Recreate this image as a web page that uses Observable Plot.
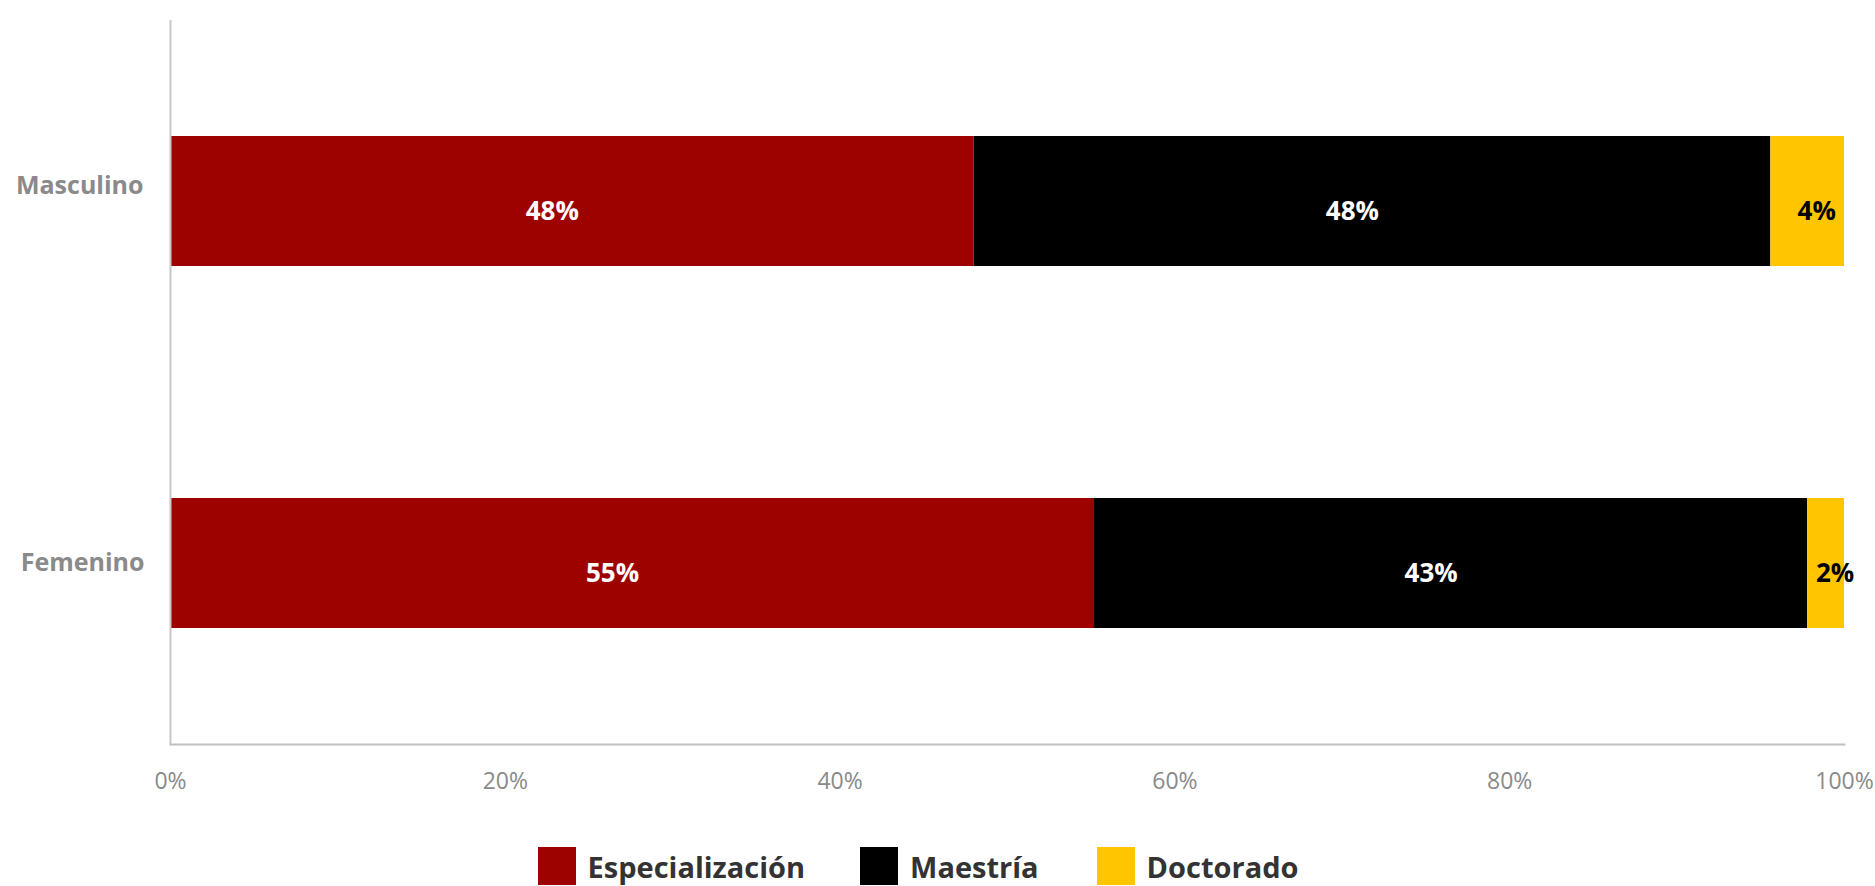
<!DOCTYPE html>
<html>
<head>
<meta charset="utf-8">
<script src="https://cdn.jsdelivr.net/npm/d3@7"></script>
<script src="https://cdn.jsdelivr.net/npm/@observablehq/plot@0.6"></script>
<style>
  body { margin: 0; background: #fff; font-family: "Open Sans", sans-serif; }
  #legend { display: flex; justify-content: center; align-items: center; height: 72px; padding-right: 39px; }
  .item { display: flex; align-items: center; font-weight: 700; font-size: 29px; color: #333; }
  .sw { width: 38px; height: 38px; margin-right: 12px; }
</style>
</head>
<body>
<div id="chart"></div>
<div id="legend"></div>
<script>
const categories = ["Masculino", "Femenino"];
const levels = ["Especialización", "Maestría", "Doctorado"];
const colors = ["#9e0200", "#000000", "#ffc600"];
const masculino = [48.0, 47.6, 4.4];
const femenino = [55.2, 42.6, 2.2];
const xTicks = [0, 20, 40, 60, 80, 100];

const data = [];
[masculino, femenino].forEach((vals, i) => {
  vals.forEach((v, j) => data.push({sex: categories[i], level: levels[j], value: v}));
});

const fmt = d => Math.round(d.value) + "%";
const font = "Open Sans";

const plot = Plot.plot({
  width: 1875,
  height: 830,
  marginTop: 20,
  marginBottom: 86,
  marginLeft: 170,
  marginRight: 31,
  style: {fontFamily: font, background: "#fff"},
  x: {domain: [0, 100], ticks: xTicks, label: null},
  y: {domain: categories, paddingInner: 0.64, paddingOuter: 0.318, axis: null, label: null},
  color: {domain: levels, range: colors},
  marks: [
    Plot.barX(data, Plot.stackX({x: "value", y: "sex", fill: "level", z: "level"})),
    Plot.text(data, Plot.stackX({
      x: "value", y: "sex", z: "level",
      text: d => d.level !== "Doctorado" ? fmt(d) : "",
      fill: "#fff", fontWeight: 700, fontSize: 26, dx: -20, dy: 10
    })),
    Plot.text(data, Plot.stackX({
      x: "value", y: "sex", z: "level",
      text: d => d.level === "Doctorado" ? fmt(d) : "",
      fill: "#000", fontWeight: 700, fontSize: 26, dx: 9, dy: 10
    })),
    Plot.axisX({ticks: xTicks, tickSize: 0, tickPadding: 28, tickFormat: d => d + "%", fontSize: 23, color: "#8a8a8a", label: null}),
    Plot.frame({anchor: "bottom", stroke: "#c0c0c0", strokeWidth: 2}),
    Plot.ruleX([0], {stroke: "#c8c8c8", strokeWidth: 2}),
    Plot.text(categories.filter(c => c === "Masculino"), {y: d => d, frameAnchor: "left", textAnchor: "end", dx: -27, dy: -16, text: d => d, fill: "#8a8a8a", fontWeight: 700, fontSize: 25}),
    Plot.text(categories.filter(c => c === "Femenino"), {y: d => d, frameAnchor: "left", textAnchor: "end", dx: -26, dy: -1, text: d => d, fill: "#8a8a8a", fontWeight: 700, fontSize: 25})
  ]
});
document.getElementById("chart").appendChild(plot);

const legend = document.getElementById("legend");
const gaps = [0, 55, 58];
levels.forEach((l, i) => {
  const item = document.createElement("div");
  item.className = "item";
  item.style.marginLeft = gaps[i] + "px";
  const sw = document.createElement("div");
  sw.className = "sw";
  sw.style.background = colors[i];
  item.appendChild(sw);
  const t = document.createElement("span");
  t.textContent = l;
  item.appendChild(t);
  legend.appendChild(item);
});
</script>
</body>
</html>
